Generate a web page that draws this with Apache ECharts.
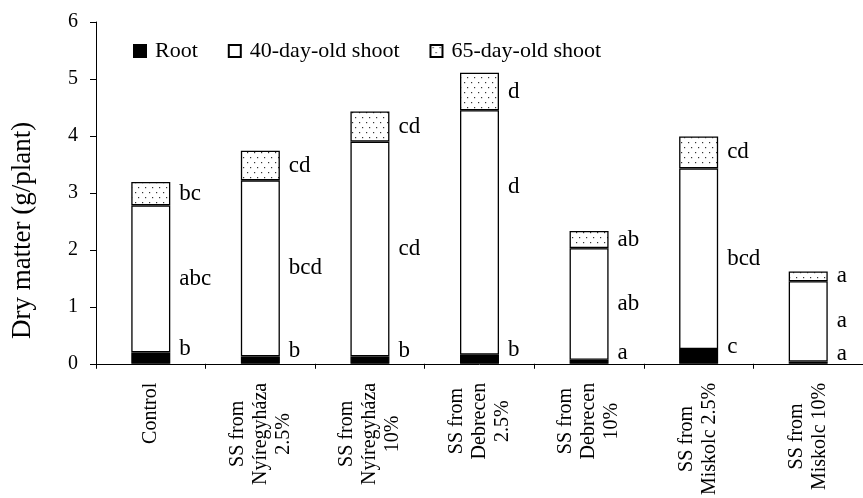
<!DOCTYPE html>
<html>
<head>
<meta charset="utf-8">
<script src="https://cdn.jsdelivr.net/npm/echarts@6/dist/echarts.min.js"></script>
<style>
html,body{margin:0;padding:0;background:#fff;}
#chart{width:863px;height:498px;}
</style>
</head>
<body>
<div id="chart"></div>
<script>
const categories = ['Control', 'SS from\nNyíregyháza\n2.5%', 'SS from\nNyíregyháza\n10%', 'SS from\nDebrecen\n2.5%', 'SS from\nDebrecen\n10%', 'SS from\nMiskolc 2.5%', 'SS from\nMiskolc 10%'];
const seriesNames = ['Root', '40-day-old shoot', '65-day-old shoot'];
const rootValues = [0.20, 0.13, 0.13, 0.16, 0.07, 0.26, 0.04];
const shoot40Values = [2.58, 3.09, 3.77, 4.29, 1.96, 3.17, 1.41];
const shoot65Values = [0.41, 0.52, 0.53, 0.66, 0.30, 0.56, 0.17];
const rootLetters = ['b', 'b', 'b', 'b', 'a', 'c', 'a'];
const shoot40Letters = ['abc', 'bcd', 'cd', 'd', 'ab', 'bcd', 'a'];
const shoot65Letters = ['bc', 'cd', 'cd', 'd', 'ab', 'cd', 'a'];
const yTicks = [0, 1, 2, 3, 4, 5, 6];

const FONT = 'Liberation Serif';

// dotted pattern
const pc = document.createElement('canvas');
pc.width = 7; pc.height = 10;
const pctx = pc.getContext('2d');
pctx.fillStyle = '#fff';
pctx.fillRect(0, 0, 7, 10);
pctx.fillStyle = '#333';
pctx.fillRect(2, 2, 1.2, 1.2);
pctx.fillRect(5, 7, 1.2, 1.2);

const chart = echarts.init(document.getElementById('chart'), null, {renderer: 'canvas'});

function labelCfg(letters, extra) {
  return Object.assign({
    show: true,
    position: 'right',
    distance: 9,
    fontFamily: FONT,
    fontSize: 23,
    color: '#000',
    formatter: p => letters[p.dataIndex]
  }, extra || {});
}

const borderStyle = {borderColor: '#000', borderWidth: 1.3};

chart.setOption({
  animation: false,
  backgroundColor: '#fff',
  textStyle: {fontFamily: FONT, color: '#000'},
  legend: {
    data: seriesNames,
    left: 128,
    top: 35,
    icon: 'rect',
    itemWidth: 12,
    itemHeight: 12,
    itemGap: 30,
    textStyle: {fontFamily: FONT, fontSize: 22, color: '#000', padding: [0, 0, 0, 4]}
  },
  grid: {left: 96, top: 22, width: 775, height: 349},
  xAxis: {
    type: 'category',
    data: categories,
    axisLine: {lineStyle: {color: '#000', width: 1}},
    axisTick: {show: true, length: 5, lineStyle: {color: '#000'}},
    axisLabel: {
      rotate: 90,
      margin: 19,
      interval: 0,
      fontFamily: FONT,
      fontSize: 20,
      color: '#000',
      lineHeight: 23,
      formatter: v => v.split('\n').map(s => '{c|' + s + '}').join('\n'),
      rich: {c: {align: 'center', fontFamily: FONT, fontSize: 20, color: '#000', lineHeight: 23}}
    }
  },
  yAxis: {
    type: 'value',
    min: yTicks[0],
    max: yTicks[yTicks.length - 1],
    interval: 1,
    name: 'Dry matter (g/plant)',
    nameLocation: 'middle',
    nameGap: 60,
    nameTextStyle: {fontFamily: FONT, fontSize: 27, color: '#000', padding: [0, 75, 0, 0]},
    axisLine: {show: true, lineStyle: {color: '#000', width: 1}},
    axisTick: {show: true, length: 6, lineStyle: {color: '#000'}},
    axisLabel: {margin: 18, fontFamily: FONT, fontSize: 20, color: '#000'},
    splitLine: {show: false}
  },
  series: [
    {
      name: seriesNames[0],
      type: 'bar',
      stack: 'total',
      barWidth: 39,
      data: rootValues,
      itemStyle: Object.assign({color: '#000'}, borderStyle),
      label: labelCfg(rootLetters, {offset: [0, -9]})
    },
    {
      name: seriesNames[1],
      type: 'bar',
      stack: 'total',
      barWidth: 39,
      data: shoot40Values.map((v, i) => i === 3 ? {value: v, label: {offset: [0, -46]}} : v),
      itemStyle: Object.assign({color: '#fff'}, borderStyle),
      label: labelCfg(shoot40Letters)
    },
    {
      name: seriesNames[2],
      type: 'bar',
      stack: 'total',
      barWidth: 39,
      data: shoot65Values,
      itemStyle: Object.assign({color: {image: pc, repeat: 'repeat'}}, borderStyle),
      label: labelCfg(shoot65Letters)
    }
  ]
});
</script>
</body>
</html>
